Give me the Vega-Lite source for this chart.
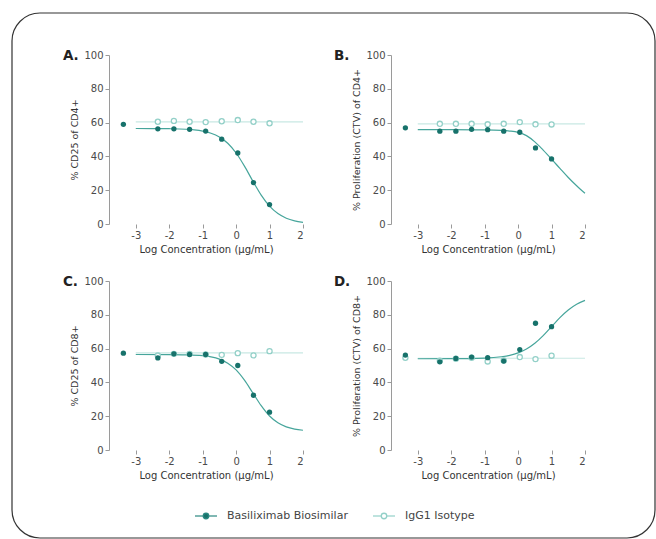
{
  "$schema": "https://vega.github.io/schema/vega-lite/v6.json",
  "padding": {"left": 11, "top": 12, "right": 1, "bottom": 1},
  "background": "white",
  "config": {
    "font": "DejaVu Sans",
    "view": {"stroke": null},
    "axis": {"domainColor": "#9a9a9a", "tickColor": "#9a9a9a", "labelColor": "#4a4a4a", "titleColor": "#333", "labelFontSize": 10, "titleFontSize": 9.5, "titleFontWeight": "normal", "tickSize": 4, "grid": false, "labelPadding": 2, "titlePadding": 4},
    "axisX": {"titleFontSize": 10, "labelExpr": "toString(datum.value)"},
    "title": {"anchor": "start", "frame": "bounds", "offset": -12, "fontSize": 13.5, "fontWeight": "bold", "color": "#222"}
  },
  "datasets": {
    "points": [
      {"panel": "A", "series": "Basiliximab Biosimilar", "logc": -3.37, "value": 59},
      {"panel": "A", "series": "Basiliximab Biosimilar", "logc": -2.34, "value": 56.3},
      {"panel": "A", "series": "Basiliximab Biosimilar", "logc": -1.86, "value": 56.3},
      {"panel": "A", "series": "Basiliximab Biosimilar", "logc": -1.39, "value": 56},
      {"panel": "A", "series": "Basiliximab Biosimilar", "logc": -0.91, "value": 55},
      {"panel": "A", "series": "Basiliximab Biosimilar", "logc": -0.43, "value": 50.2},
      {"panel": "A", "series": "Basiliximab Biosimilar", "logc": 0.05, "value": 42},
      {"panel": "A", "series": "Basiliximab Biosimilar", "logc": 0.52, "value": 24.5},
      {"panel": "A", "series": "Basiliximab Biosimilar", "logc": 1.0, "value": 11.5},
      {"panel": "A", "series": "IgG1 Isotype", "logc": -2.34, "value": 60.5},
      {"panel": "A", "series": "IgG1 Isotype", "logc": -1.86, "value": 61},
      {"panel": "A", "series": "IgG1 Isotype", "logc": -1.39, "value": 60.5},
      {"panel": "A", "series": "IgG1 Isotype", "logc": -0.91, "value": 60.3},
      {"panel": "A", "series": "IgG1 Isotype", "logc": -0.43, "value": 60.8},
      {"panel": "A", "series": "IgG1 Isotype", "logc": 0.05, "value": 61.5},
      {"panel": "A", "series": "IgG1 Isotype", "logc": 0.52, "value": 60.5},
      {"panel": "A", "series": "IgG1 Isotype", "logc": 1.0, "value": 59.6},
      {"panel": "B", "series": "Basiliximab Biosimilar", "logc": -3.37, "value": 56.9},
      {"panel": "B", "series": "Basiliximab Biosimilar", "logc": -2.34, "value": 54.9},
      {"panel": "B", "series": "Basiliximab Biosimilar", "logc": -1.86, "value": 54.9},
      {"panel": "B", "series": "Basiliximab Biosimilar", "logc": -1.39, "value": 56},
      {"panel": "B", "series": "Basiliximab Biosimilar", "logc": -0.91, "value": 55.8},
      {"panel": "B", "series": "Basiliximab Biosimilar", "logc": -0.43, "value": 54.9},
      {"panel": "B", "series": "Basiliximab Biosimilar", "logc": 0.05, "value": 54.3},
      {"panel": "B", "series": "Basiliximab Biosimilar", "logc": 0.52, "value": 45},
      {"panel": "B", "series": "Basiliximab Biosimilar", "logc": 1.0, "value": 38.5},
      {"panel": "B", "series": "IgG1 Isotype", "logc": -2.34, "value": 59.3},
      {"panel": "B", "series": "IgG1 Isotype", "logc": -1.86, "value": 59.3},
      {"panel": "B", "series": "IgG1 Isotype", "logc": -1.39, "value": 59.3},
      {"panel": "B", "series": "IgG1 Isotype", "logc": -0.91, "value": 59},
      {"panel": "B", "series": "IgG1 Isotype", "logc": -0.43, "value": 59.3},
      {"panel": "B", "series": "IgG1 Isotype", "logc": 0.05, "value": 60.3},
      {"panel": "B", "series": "IgG1 Isotype", "logc": 0.52, "value": 59},
      {"panel": "B", "series": "IgG1 Isotype", "logc": 1.0, "value": 58.9},
      {"panel": "C", "series": "Basiliximab Biosimilar", "logc": -3.37, "value": 57.3},
      {"panel": "C", "series": "Basiliximab Biosimilar", "logc": -2.34, "value": 54.5},
      {"panel": "C", "series": "Basiliximab Biosimilar", "logc": -1.86, "value": 56.9},
      {"panel": "C", "series": "Basiliximab Biosimilar", "logc": -1.39, "value": 56.5},
      {"panel": "C", "series": "Basiliximab Biosimilar", "logc": -0.91, "value": 56.5},
      {"panel": "C", "series": "Basiliximab Biosimilar", "logc": -0.43, "value": 52.5},
      {"panel": "C", "series": "Basiliximab Biosimilar", "logc": 0.05, "value": 50},
      {"panel": "C", "series": "Basiliximab Biosimilar", "logc": 0.52, "value": 32.4},
      {"panel": "C", "series": "Basiliximab Biosimilar", "logc": 1.0, "value": 22.4},
      {"panel": "C", "series": "IgG1 Isotype", "logc": -2.34, "value": 55.9},
      {"panel": "C", "series": "IgG1 Isotype", "logc": -1.86, "value": 56.9},
      {"panel": "C", "series": "IgG1 Isotype", "logc": -1.39, "value": 56.9},
      {"panel": "C", "series": "IgG1 Isotype", "logc": -0.91, "value": 56.5},
      {"panel": "C", "series": "IgG1 Isotype", "logc": -0.43, "value": 56.3},
      {"panel": "C", "series": "IgG1 Isotype", "logc": 0.05, "value": 57.3},
      {"panel": "C", "series": "IgG1 Isotype", "logc": 0.52, "value": 56},
      {"panel": "C", "series": "IgG1 Isotype", "logc": 1.0, "value": 58.5},
      {"panel": "D", "series": "Basiliximab Biosimilar", "logc": -3.37, "value": 56.2},
      {"panel": "D", "series": "Basiliximab Biosimilar", "logc": -2.34, "value": 52.2},
      {"panel": "D", "series": "Basiliximab Biosimilar", "logc": -1.86, "value": 54.2},
      {"panel": "D", "series": "Basiliximab Biosimilar", "logc": -1.39, "value": 55},
      {"panel": "D", "series": "Basiliximab Biosimilar", "logc": -0.91, "value": 54.6},
      {"panel": "D", "series": "Basiliximab Biosimilar", "logc": -0.43, "value": 52.6},
      {"panel": "D", "series": "Basiliximab Biosimilar", "logc": 0.05, "value": 59.4},
      {"panel": "D", "series": "Basiliximab Biosimilar", "logc": 0.52, "value": 75},
      {"panel": "D", "series": "Basiliximab Biosimilar", "logc": 1.0, "value": 73},
      {"panel": "D", "series": "IgG1 Isotype", "logc": -3.37, "value": 54.6},
      {"panel": "D", "series": "IgG1 Isotype", "logc": -2.34, "value": 52.8},
      {"panel": "D", "series": "IgG1 Isotype", "logc": -1.86, "value": 54},
      {"panel": "D", "series": "IgG1 Isotype", "logc": -1.39, "value": 54.6},
      {"panel": "D", "series": "IgG1 Isotype", "logc": -0.91, "value": 52.4},
      {"panel": "D", "series": "IgG1 Isotype", "logc": -0.43, "value": 53},
      {"panel": "D", "series": "IgG1 Isotype", "logc": 0.05, "value": 55},
      {"panel": "D", "series": "IgG1 Isotype", "logc": 0.52, "value": 53.8},
      {"panel": "D", "series": "IgG1 Isotype", "logc": 1.0, "value": 55.8}
    ],
    "curves": [
      {"panel": "A", "series": "IgG1 Isotype", "logc": -3, "value": 60.4},
      {"panel": "A", "series": "IgG1 Isotype", "logc": 2, "value": 60.4},
      {"panel": "B", "series": "IgG1 Isotype", "logc": -3, "value": 59.2},
      {"panel": "B", "series": "IgG1 Isotype", "logc": 2, "value": 59.2},
      {"panel": "C", "series": "IgG1 Isotype", "logc": -3, "value": 57.5},
      {"panel": "C", "series": "IgG1 Isotype", "logc": 2, "value": 57.5},
      {"panel": "D", "series": "IgG1 Isotype", "logc": -3, "value": 54.3},
      {"panel": "D", "series": "IgG1 Isotype", "logc": 2, "value": 54.3},
      {"panel": "A", "series": "Basiliximab Biosimilar", "logc": -3, "value": 56.5},
      {"panel": "A", "series": "Basiliximab Biosimilar", "logc": -2.5, "value": 56.47},
      {"panel": "A", "series": "Basiliximab Biosimilar", "logc": -2, "value": 56.38},
      {"panel": "A", "series": "Basiliximab Biosimilar", "logc": -1.5, "value": 56.07},
      {"panel": "A", "series": "Basiliximab Biosimilar", "logc": -1.25, "value": 55.69},
      {"panel": "A", "series": "Basiliximab Biosimilar", "logc": -1, "value": 54.99},
      {"panel": "A", "series": "Basiliximab Biosimilar", "logc": -0.75, "value": 53.73},
      {"panel": "A", "series": "Basiliximab Biosimilar", "logc": -0.5, "value": 51.49},
      {"panel": "A", "series": "Basiliximab Biosimilar", "logc": -0.25, "value": 47.75},
      {"panel": "A", "series": "Basiliximab Biosimilar", "logc": 0, "value": 42.0},
      {"panel": "A", "series": "Basiliximab Biosimilar", "logc": 0.25, "value": 34.24},
      {"panel": "A", "series": "Basiliximab Biosimilar", "logc": 0.5, "value": 25.39},
      {"panel": "A", "series": "Basiliximab Biosimilar", "logc": 0.75, "value": 17.09},
      {"panel": "A", "series": "Basiliximab Biosimilar", "logc": 1, "value": 10.57},
      {"panel": "A", "series": "Basiliximab Biosimilar", "logc": 1.25, "value": 6.15},
      {"panel": "A", "series": "Basiliximab Biosimilar", "logc": 1.5, "value": 3.44},
      {"panel": "A", "series": "Basiliximab Biosimilar", "logc": 1.75, "value": 1.88},
      {"panel": "A", "series": "Basiliximab Biosimilar", "logc": 2, "value": 1.01},
      {"panel": "B", "series": "Basiliximab Biosimilar", "logc": -3, "value": 55.8},
      {"panel": "B", "series": "Basiliximab Biosimilar", "logc": -2, "value": 55.8},
      {"panel": "B", "series": "Basiliximab Biosimilar", "logc": -1, "value": 55.7},
      {"panel": "B", "series": "Basiliximab Biosimilar", "logc": -0.5, "value": 55.4},
      {"panel": "B", "series": "Basiliximab Biosimilar", "logc": -0.25, "value": 55.0},
      {"panel": "B", "series": "Basiliximab Biosimilar", "logc": 0, "value": 54.2},
      {"panel": "B", "series": "Basiliximab Biosimilar", "logc": 0.25, "value": 52.3},
      {"panel": "B", "series": "Basiliximab Biosimilar", "logc": 0.5, "value": 48.6},
      {"panel": "B", "series": "Basiliximab Biosimilar", "logc": 0.75, "value": 43.7},
      {"panel": "B", "series": "Basiliximab Biosimilar", "logc": 1, "value": 38.4},
      {"panel": "B", "series": "Basiliximab Biosimilar", "logc": 1.25, "value": 32.9},
      {"panel": "B", "series": "Basiliximab Biosimilar", "logc": 1.5, "value": 27.5},
      {"panel": "B", "series": "Basiliximab Biosimilar", "logc": 1.75, "value": 22.6},
      {"panel": "B", "series": "Basiliximab Biosimilar", "logc": 2, "value": 18.2},
      {"panel": "C", "series": "Basiliximab Biosimilar", "logc": -3, "value": 56.5},
      {"panel": "C", "series": "Basiliximab Biosimilar", "logc": -2, "value": 56.45},
      {"panel": "C", "series": "Basiliximab Biosimilar", "logc": -1.5, "value": 56.32},
      {"panel": "C", "series": "Basiliximab Biosimilar", "logc": -1, "value": 55.79},
      {"panel": "C", "series": "Basiliximab Biosimilar", "logc": -0.75, "value": 55.1},
      {"panel": "C", "series": "Basiliximab Biosimilar", "logc": -0.5, "value": 53.8},
      {"panel": "C", "series": "Basiliximab Biosimilar", "logc": -0.25, "value": 51.4},
      {"panel": "C", "series": "Basiliximab Biosimilar", "logc": 0, "value": 47.4},
      {"panel": "C", "series": "Basiliximab Biosimilar", "logc": 0.25, "value": 41.3},
      {"panel": "C", "series": "Basiliximab Biosimilar", "logc": 0.5, "value": 33.75},
      {"panel": "C", "series": "Basiliximab Biosimilar", "logc": 0.75, "value": 26.2},
      {"panel": "C", "series": "Basiliximab Biosimilar", "logc": 1, "value": 20.1},
      {"panel": "C", "series": "Basiliximab Biosimilar", "logc": 1.25, "value": 16.1},
      {"panel": "C", "series": "Basiliximab Biosimilar", "logc": 1.5, "value": 13.7},
      {"panel": "C", "series": "Basiliximab Biosimilar", "logc": 1.75, "value": 12.4},
      {"panel": "C", "series": "Basiliximab Biosimilar", "logc": 2, "value": 11.7},
      {"panel": "D", "series": "Basiliximab Biosimilar", "logc": -3, "value": 54.0},
      {"panel": "D", "series": "Basiliximab Biosimilar", "logc": -2, "value": 54.04},
      {"panel": "D", "series": "Basiliximab Biosimilar", "logc": -1, "value": 54.38},
      {"panel": "D", "series": "Basiliximab Biosimilar", "logc": -0.5, "value": 55.17},
      {"panel": "D", "series": "Basiliximab Biosimilar", "logc": -0.25, "value": 56.02},
      {"panel": "D", "series": "Basiliximab Biosimilar", "logc": 0, "value": 57.45},
      {"panel": "D", "series": "Basiliximab Biosimilar", "logc": 0.25, "value": 59.74},
      {"panel": "D", "series": "Basiliximab Biosimilar", "logc": 0.5, "value": 63.13},
      {"panel": "D", "series": "Basiliximab Biosimilar", "logc": 0.75, "value": 67.68},
      {"panel": "D", "series": "Basiliximab Biosimilar", "logc": 1, "value": 73.0},
      {"panel": "D", "series": "Basiliximab Biosimilar", "logc": 1.25, "value": 78.33},
      {"panel": "D", "series": "Basiliximab Biosimilar", "logc": 1.5, "value": 82.87},
      {"panel": "D", "series": "Basiliximab Biosimilar", "logc": 1.75, "value": 86.26},
      {"panel": "D", "series": "Basiliximab Biosimilar", "logc": 2, "value": 88.55}
    ],
    "one": [{}],
    "legend": [{"series": "Basiliximab Biosimilar"}, {"series": "IgG1 Isotype"}]
  },
  "columns": 2,
  "bounds": "flush",
  "align": "each",
  "spacing": {"row": 57, "column": 88},
  "concat": [
    {
      "title": {"text": "A.", "dx": -7},
      "width": 194, "height": 169,
      "encoding": {
        "x": {"field": "logc", "type": "quantitative", "scale": {"domain": [-3.8, 2], "nice": false, "zero": false}, "axis": {"values": [-3, -2, -1, 0, 1, 2], "domain": false, "title": "Log Concentration (µg/mL)"}},
        "y": {"field": "value", "type": "quantitative", "scale": {"domain": [0, 100], "nice": false}, "axis": {"values": [0, 20, 40, 60, 80, 100], "title": "% CD25 of CD4+"}}
      },
      "layer": [
        {"data": {"name": "one"}, "mark": {"type": "rule", "color": "#9a9a9a"}, "encoding": {"x": {"datum": -3.8, "type": "quantitative"}, "x2": {"datum": -3.45}, "y": {"datum": 0, "type": "quantitative"}}},
        {"data": {"name": "one"}, "mark": {"type": "rule", "color": "#9a9a9a"}, "encoding": {"x": {"datum": -3.08, "type": "quantitative"}, "x2": {"datum": 2}, "y": {"datum": 0, "type": "quantitative"}}},
        {"data": {"name": "one"}, "mark": {"type": "rule", "color": "#9a9a9a"}, "encoding": {"x": {"datum": -3.42, "type": "quantitative"}, "x2": {"datum": -3.32}, "y": {"datum": -1.8, "type": "quantitative"}, "y2": {"datum": 1.8}}},
        {"data": {"name": "one"}, "mark": {"type": "rule", "color": "#9a9a9a"}, "encoding": {"x": {"datum": -3.2, "type": "quantitative"}, "x2": {"datum": -3.1}, "y": {"datum": -1.8, "type": "quantitative"}, "y2": {"datum": 1.8}}},
        {"data": {"name": "curves"}, "transform": [{"filter": "datum.panel == 'A' && datum.series == 'IgG1 Isotype'"}], "mark": {"type": "line", "color": "#c8e8e3", "strokeWidth": 1.2}},
        {"data": {"name": "curves"}, "transform": [{"filter": "datum.panel == 'A' && datum.series == 'Basiliximab Biosimilar'"}], "mark": {"type": "line", "color": "#46a59b", "strokeWidth": 1.2, "interpolate": "monotone"}},
        {"data": {"name": "points"}, "transform": [{"filter": "datum.panel == 'A' && datum.series == 'IgG1 Isotype'"}], "mark": {"type": "point", "shape": "circle", "size": 26, "fill": "white", "stroke": "#93d0c8", "strokeWidth": 1.3, "opacity": 1}},
        {"data": {"name": "points"}, "transform": [{"filter": "datum.panel == 'A' && datum.series == 'Basiliximab Biosimilar'"}], "mark": {"type": "point", "shape": "circle", "size": 28, "filled": true, "color": "#17726b", "opacity": 1}}
      ]
    },
    {
      "title": {"text": "B.", "dx": -18},
      "width": 194, "height": 169,
      "encoding": {
        "x": {"field": "logc", "type": "quantitative", "scale": {"domain": [-3.8, 2], "nice": false, "zero": false}, "axis": {"values": [-3, -2, -1, 0, 1, 2], "domain": false, "title": "Log Concentration (µg/mL)"}},
        "y": {"field": "value", "type": "quantitative", "scale": {"domain": [0, 100], "nice": false}, "axis": {"values": [0, 20, 40, 60, 80, 100], "title": "% Proliferation (CTV) of CD4+"}}
      },
      "layer": [
        {"data": {"name": "one"}, "mark": {"type": "rule", "color": "#9a9a9a"}, "encoding": {"x": {"datum": -3.8, "type": "quantitative"}, "x2": {"datum": -3.45}, "y": {"datum": 0, "type": "quantitative"}}},
        {"data": {"name": "one"}, "mark": {"type": "rule", "color": "#9a9a9a"}, "encoding": {"x": {"datum": -3.08, "type": "quantitative"}, "x2": {"datum": 2}, "y": {"datum": 0, "type": "quantitative"}}},
        {"data": {"name": "one"}, "mark": {"type": "rule", "color": "#9a9a9a"}, "encoding": {"x": {"datum": -3.42, "type": "quantitative"}, "x2": {"datum": -3.32}, "y": {"datum": -1.8, "type": "quantitative"}, "y2": {"datum": 1.8}}},
        {"data": {"name": "one"}, "mark": {"type": "rule", "color": "#9a9a9a"}, "encoding": {"x": {"datum": -3.2, "type": "quantitative"}, "x2": {"datum": -3.1}, "y": {"datum": -1.8, "type": "quantitative"}, "y2": {"datum": 1.8}}},
        {"data": {"name": "curves"}, "transform": [{"filter": "datum.panel == 'B' && datum.series == 'IgG1 Isotype'"}], "mark": {"type": "line", "color": "#c8e8e3", "strokeWidth": 1.2}},
        {"data": {"name": "curves"}, "transform": [{"filter": "datum.panel == 'B' && datum.series == 'Basiliximab Biosimilar'"}], "mark": {"type": "line", "color": "#46a59b", "strokeWidth": 1.2, "interpolate": "monotone"}},
        {"data": {"name": "points"}, "transform": [{"filter": "datum.panel == 'B' && datum.series == 'IgG1 Isotype'"}], "mark": {"type": "point", "shape": "circle", "size": 26, "fill": "white", "stroke": "#93d0c8", "strokeWidth": 1.3, "opacity": 1}},
        {"data": {"name": "points"}, "transform": [{"filter": "datum.panel == 'B' && datum.series == 'Basiliximab Biosimilar'"}], "mark": {"type": "point", "shape": "circle", "size": 28, "filled": true, "color": "#17726b", "opacity": 1}}
      ]
    },
    {
      "title": {"text": "C.", "dx": -7},
      "width": 194, "height": 169,
      "encoding": {
        "x": {"field": "logc", "type": "quantitative", "scale": {"domain": [-3.8, 2], "nice": false, "zero": false}, "axis": {"values": [-3, -2, -1, 0, 1, 2], "domain": false, "title": "Log Concentration (µg/mL)"}},
        "y": {"field": "value", "type": "quantitative", "scale": {"domain": [0, 100], "nice": false}, "axis": {"values": [0, 20, 40, 60, 80, 100], "title": "% CD25 of CD8+"}}
      },
      "layer": [
        {"data": {"name": "one"}, "mark": {"type": "rule", "color": "#9a9a9a"}, "encoding": {"x": {"datum": -3.8, "type": "quantitative"}, "x2": {"datum": -3.45}, "y": {"datum": 0, "type": "quantitative"}}},
        {"data": {"name": "one"}, "mark": {"type": "rule", "color": "#9a9a9a"}, "encoding": {"x": {"datum": -3.08, "type": "quantitative"}, "x2": {"datum": 2}, "y": {"datum": 0, "type": "quantitative"}}},
        {"data": {"name": "one"}, "mark": {"type": "rule", "color": "#9a9a9a"}, "encoding": {"x": {"datum": -3.42, "type": "quantitative"}, "x2": {"datum": -3.32}, "y": {"datum": -1.8, "type": "quantitative"}, "y2": {"datum": 1.8}}},
        {"data": {"name": "one"}, "mark": {"type": "rule", "color": "#9a9a9a"}, "encoding": {"x": {"datum": -3.2, "type": "quantitative"}, "x2": {"datum": -3.1}, "y": {"datum": -1.8, "type": "quantitative"}, "y2": {"datum": 1.8}}},
        {"data": {"name": "curves"}, "transform": [{"filter": "datum.panel == 'C' && datum.series == 'IgG1 Isotype'"}], "mark": {"type": "line", "color": "#c8e8e3", "strokeWidth": 1.2}},
        {"data": {"name": "curves"}, "transform": [{"filter": "datum.panel == 'C' && datum.series == 'Basiliximab Biosimilar'"}], "mark": {"type": "line", "color": "#46a59b", "strokeWidth": 1.2, "interpolate": "monotone"}},
        {"data": {"name": "points"}, "transform": [{"filter": "datum.panel == 'C' && datum.series == 'IgG1 Isotype'"}], "mark": {"type": "point", "shape": "circle", "size": 26, "fill": "white", "stroke": "#93d0c8", "strokeWidth": 1.3, "opacity": 1}},
        {"data": {"name": "points"}, "transform": [{"filter": "datum.panel == 'C' && datum.series == 'Basiliximab Biosimilar'"}], "mark": {"type": "point", "shape": "circle", "size": 28, "filled": true, "color": "#17726b", "opacity": 1}}
      ]
    },
    {
      "title": {"text": "D.", "dx": -18},
      "width": 194, "height": 169,
      "encoding": {
        "x": {"field": "logc", "type": "quantitative", "scale": {"domain": [-3.8, 2], "nice": false, "zero": false}, "axis": {"values": [-3, -2, -1, 0, 1, 2], "domain": false, "title": "Log Concentration (µg/mL)"}},
        "y": {"field": "value", "type": "quantitative", "scale": {"domain": [0, 100], "nice": false}, "axis": {"values": [0, 20, 40, 60, 80, 100], "title": "% Proliferation (CTV) of CD8+"}}
      },
      "layer": [
        {"data": {"name": "one"}, "mark": {"type": "rule", "color": "#9a9a9a"}, "encoding": {"x": {"datum": -3.8, "type": "quantitative"}, "x2": {"datum": -3.45}, "y": {"datum": 0, "type": "quantitative"}}},
        {"data": {"name": "one"}, "mark": {"type": "rule", "color": "#9a9a9a"}, "encoding": {"x": {"datum": -3.08, "type": "quantitative"}, "x2": {"datum": 2}, "y": {"datum": 0, "type": "quantitative"}}},
        {"data": {"name": "one"}, "mark": {"type": "rule", "color": "#9a9a9a"}, "encoding": {"x": {"datum": -3.42, "type": "quantitative"}, "x2": {"datum": -3.32}, "y": {"datum": -1.8, "type": "quantitative"}, "y2": {"datum": 1.8}}},
        {"data": {"name": "one"}, "mark": {"type": "rule", "color": "#9a9a9a"}, "encoding": {"x": {"datum": -3.2, "type": "quantitative"}, "x2": {"datum": -3.1}, "y": {"datum": -1.8, "type": "quantitative"}, "y2": {"datum": 1.8}}},
        {"data": {"name": "curves"}, "transform": [{"filter": "datum.panel == 'D' && datum.series == 'IgG1 Isotype'"}], "mark": {"type": "line", "color": "#c8e8e3", "strokeWidth": 1.2}},
        {"data": {"name": "curves"}, "transform": [{"filter": "datum.panel == 'D' && datum.series == 'Basiliximab Biosimilar'"}], "mark": {"type": "line", "color": "#46a59b", "strokeWidth": 1.2, "interpolate": "monotone"}},
        {"data": {"name": "points"}, "transform": [{"filter": "datum.panel == 'D' && datum.series == 'IgG1 Isotype'"}], "mark": {"type": "point", "shape": "circle", "size": 26, "fill": "white", "stroke": "#93d0c8", "strokeWidth": 1.3, "opacity": 1}},
        {"data": {"name": "points"}, "transform": [{"filter": "datum.panel == 'D' && datum.series == 'Basiliximab Biosimilar'"}], "mark": {"type": "point", "shape": "circle", "size": 28, "filled": true, "color": "#17726b", "opacity": 1}}
      ]
    },
    {
      "width": 194, "height": 18,
      "resolve": {"scale": {"x": "independent", "y": "independent"}},
      "layer": [
        {
          "data": {"name": "one"},
          "mark": {"type": "rect", "fill": "white", "fillOpacity": 0, "stroke": "#333", "strokeWidth": 1.2, "cornerRadius": 28},
          "encoding": {
            "x": {"datum": -97, "type": "quantitative", "scale": {"domain": [0, 194], "nice": false, "zero": false}, "axis": null},
            "x2": {"datum": 546},
            "y": {"datum": 512, "type": "quantitative", "scale": {"domain": [0, 18], "nice": false, "zero": false}, "axis": null},
            "y2": {"datum": -13}
          }
        },
        {
          "data": {"name": "legend"},
          "encoding": {"x": {"field": "series", "type": "nominal", "scale": {"type": "point", "padding": 0, "range": [97, 275], "domain": ["Basiliximab Biosimilar", "IgG1 Isotype"]}, "axis": null}},
          "layer": [
            {"mark": {"type": "point", "shape": "M-1,0L1,0", "size": 484, "filled": false, "strokeWidth": 1.2, "opacity": 1}, "encoding": {"stroke": {"field": "series", "type": "nominal", "scale": {"domain": ["Basiliximab Biosimilar", "IgG1 Isotype"], "range": ["#2a8880", "#93d0c8"]}, "legend": null}}},
            {"mark": {"type": "point", "shape": "circle", "size": 30, "strokeWidth": 1.3, "opacity": 1}, "encoding": {"fill": {"field": "series", "type": "nominal", "scale": {"domain": ["Basiliximab Biosimilar", "IgG1 Isotype"], "range": ["#17726b", "#ffffff"]}, "legend": null}, "stroke": {"field": "series", "type": "nominal", "legend": null}}},
            {"mark": {"type": "text", "align": "left", "dx": 21, "fontSize": 11, "fontWeight": 500, "color": "#444"}, "encoding": {"text": {"field": "series"}}}
          ]
        }
      ]
    }
  ]
}
